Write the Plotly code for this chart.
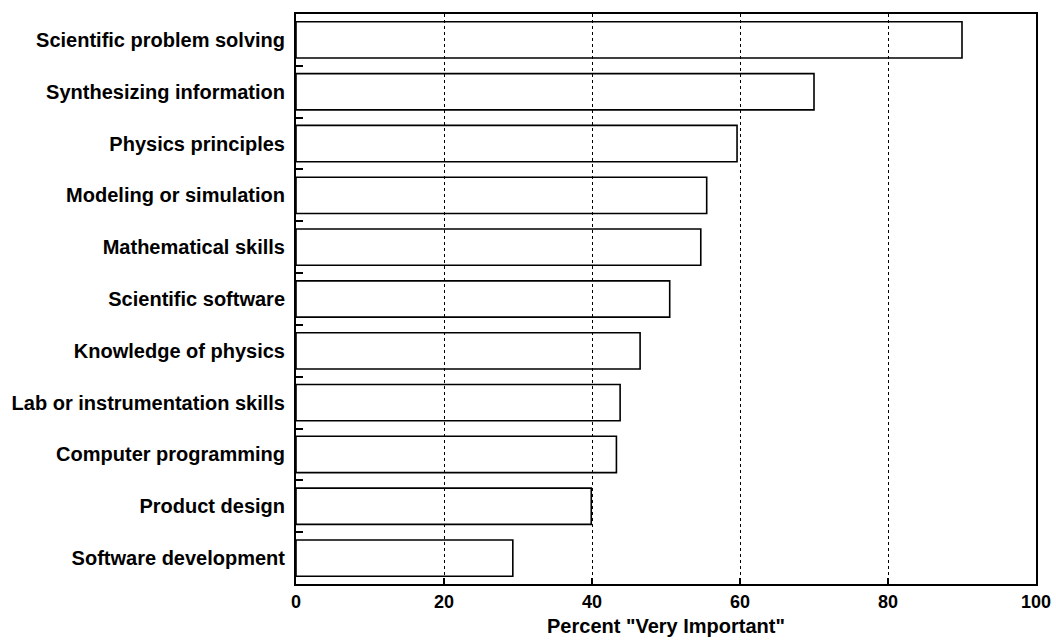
import plotly.graph_objects as go

categories = [
    "Scientific problem solving",
    "Synthesizing information",
    "Physics principles",
    "Modeling or simulation",
    "Mathematical skills",
    "Scientific software",
    "Knowledge of physics",
    "Lab or instrumentation skills",
    "Computer programming",
    "Product design",
    "Software development",
]
values = [90.0, 70.0, 59.6, 55.5, 54.7, 50.5, 46.5, 43.8, 43.3, 39.9, 29.3]
x_ticks = [0, 20, 40, 60, 80, 100]
x_title = 'Percent "Very Important"'

FONT = "Liberation Sans, Arial, sans-serif"

fig = go.Figure()
fig.add_trace(go.Bar(
    y=categories,
    x=values,
    orientation="h",
    width=0.7,
    marker=dict(color="rgba(255,255,255,0)", line=dict(color="black", width=1.6)),
    showlegend=False,
))

fig.update_layout(
    width=1056,
    height=641,
    margin=dict(l=296, r=20, t=14, b=57, autoexpand=False),
    paper_bgcolor="white",
    plot_bgcolor="white",
    bargap=0.3,
)

fig.update_xaxes(
    range=[0, 100],
    tickvals=x_ticks,
    automargin=False,
    ticks="inside",
    ticklen=6,
    tickwidth=2,
    tickcolor="black",
    showgrid=True,
    gridcolor="black",
    griddash="dot",
    gridwidth=1,
    showline=True,
    linecolor="black",
    linewidth=2,
    mirror=True,
    zeroline=False,
    tickfont=dict(family=FONT, size=18, color="black", weight="bold"),
    title=dict(text=x_title, font=dict(family=FONT, size=20, color="black", weight="bold"), standoff=8),
)
fig.update_yaxes(
    categoryorder="array",
    categoryarray=categories,
    autorange="reversed",
    automargin=False,
    tickson="boundaries",
    ticks="inside",
    ticklen=7,
    tickwidth=2,
    tickcolor="black",
    showgrid=False,
    showline=True,
    linecolor="black",
    linewidth=2,
    mirror=True,
    ticklabelstandoff=5,
    tickfont=dict(family=FONT, size=20, color="black", weight="bold"),
)

fig.write_html(
    "out.html",
    config={"displayModeBar": False},
    post_script="document.body.style.margin='0';document.body.style.overflow='hidden';",
)
